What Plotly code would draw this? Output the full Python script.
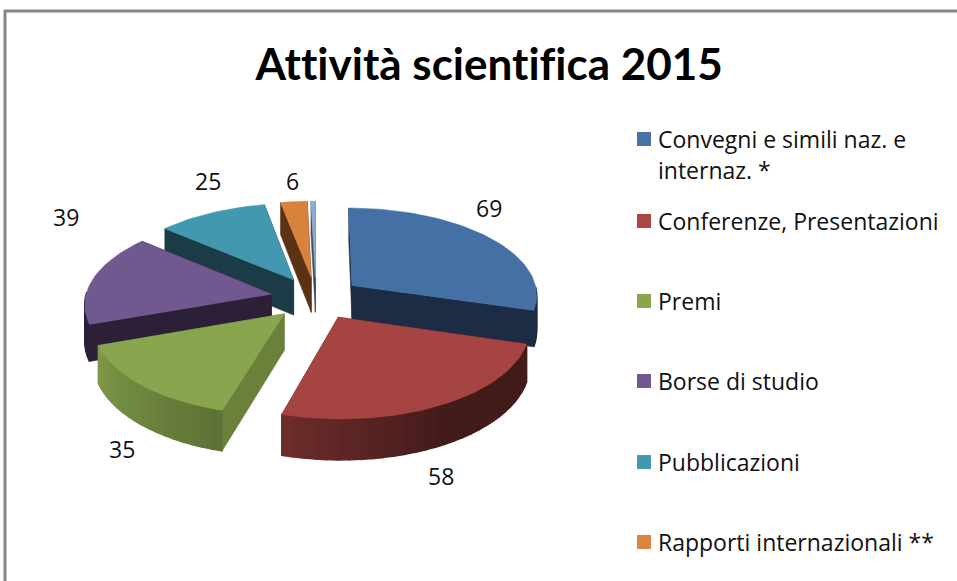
import math
import plotly.graph_objects as go

# ---- data ----
TITLE = "Attività scientifica 2015"
categories = ["Convegni e simili naz. e\ninternaz. *", "Conferenze, Presentazioni", "Premi",
              "Borse di studio", "Pubblicazioni", "Rapporti internazionali **", ""]
values = [69, 58, 35, 39, 25, 6, 1]

# ---- style ----
top_colors = ["#4570A5", "#A54442", "#89A54E", "#71588F", "#4198AF", "#D8833D", "#93A9CF"]
legend_colors = ["#4572A7", "#AA4643", "#89A54E", "#71588F", "#4198AF", "#DB843D"]
wall_colors = ["#1B2C44", "#4A1C1A", "#6B8039", "#2C2037", "#1B3C47", "#5A3214", "#3A4A66"]
CX, CY, R, F, KP, DEPTH, EXPLODE = 316, 298, 186, 0.47, 0.10, 36, 0.245
TITLE_FONT = "Lato, Carlito, sans-serif"
FONT = "Open Sans, sans-serif"
label_xy = [(489, 208), (441, 476), (122, 449), (66, 217), (208, 181), (292, 181)]
legend_y = [139, 221, 301, 381, 462, 542]
draw_order = [6, 5, 4, 0, 3, 2, 1]


def project(theta, rho, off, z=0.0):
    """theta in degrees clockwise from 12 o'clock, rho radius, off = (ox, oy) explosion."""
    t = math.radians(theta)
    X = rho * math.sin(t) + off[0]
    Y = rho * math.cos(t) + off[1]
    s = 1 / (1 + KP * Y)
    return CX + R * X * s, CY - R * F * Y * s + z * s


def scale(hex_color, k):
    r, g, b = (int(hex_color[i:i + 2], 16) for i in (1, 3, 5))
    return f"rgb({int(r * k)},{int(g * k)},{int(b * k)})"


def poly(fig, pts, color, lw=0.6):
    fig.add_trace(go.Scatter(
        x=[p[0] for p in pts] + [pts[0][0]], y=[p[1] for p in pts] + [pts[0][1]],
        mode="lines", fill="toself", fillcolor=color,
        line=dict(color=color, width=lw), hoverinfo="skip", showlegend=False))


def rim_shade(theta):
    """Lighting of the outer rim: dark on the right, lighter to the left."""
    if theta <= 150:
        return 0.40
    if theta <= 195:
        return 0.40 + (theta - 150) / 45 * 0.26
    return 0.68 + (theta - 195) / 54 * 0.24


fig = go.Figure()
total = sum(values)
starts = []
acc = 0
for v in values:
    starts.append(acc / total * 360)
    acc += v

for i in draw_order:
    a0 = starts[i]
    a1 = a0 + values[i] / total * 360
    mid = math.radians((a0 + a1) / 2)
    off = (EXPLODE * math.sin(mid), EXPLODE * math.cos(mid))
    apex_t = project(0, 0, off)
    apex_b = project(0, 0, off, DEPTH)
    # radial walls
    for a in (a0, a1):
        poly(fig, [apex_t, project(a, 1, off), project(a, 1, off, DEPTH), apex_b], wall_colors[i])
    # outer rim, front part only, in shaded strips
    n = max(1, int((a1 - a0) / 3))
    for k in range(n):
        b0 = a0 + (a1 - a0) * k / n
        b1 = a0 + (a1 - a0) * (k + 1) / n
        bm = (b0 + b1) / 2
        if 90 <= bm <= 270:
            col = wall_colors[i] if i == 3 else scale(top_colors[i], rim_shade(bm))
            poly(fig, [project(b0, 1, off), project(b1, 1, off),
                       project(b1, 1, off, DEPTH), project(b0, 1, off, DEPTH)], col, lw=1.5)
    # top face
    m = max(2, int((a1 - a0) / 2))
    arc = [project(a0 + (a1 - a0) * k / m, 1, off) for k in range(m + 1)]
    poly(fig, [apex_t] + arc, top_colors[i])

annotations = [dict(x=488, y=63, text=f"<b>{TITLE}</b>", showarrow=False, xref="x", yref="y",
                    font=dict(family=TITLE_FONT, size=44, color="#000000"))]
for (x, y), v in zip(label_xy, values):
    annotations.append(dict(x=x, y=y, text=str(v), showarrow=False, xref="x", yref="y",
                            font=dict(family=FONT, size=23, color="#111111")))
for name, y in zip(categories, legend_y):
    for j, line in enumerate(name.split("\n")):
        annotations.append(dict(x=656, y=y + j * 31, text=line, showarrow=False, xanchor="left",
                                xref="x", yref="y", font=dict(family=FONT, size=23, color="#111111")))

fig.add_trace(go.Scatter(x=[644] * 6, y=legend_y, mode="markers", showlegend=False, hoverinfo="skip",
                         marker=dict(symbol="square", size=14, color=legend_colors, line=dict(width=0))))

fig.update_layout(
    width=957, height=581, margin=dict(l=0, r=0, t=0, b=0), autosize=False,
    paper_bgcolor="white", plot_bgcolor="white", showlegend=False,
    xaxis=dict(range=[0, 957], visible=False, fixedrange=True),
    yaxis=dict(range=[581, 0], visible=False, fixedrange=True),
    annotations=annotations,
    shapes=[
        dict(type="line", xref="x", yref="y", x0=4, x1=957, y0=11, y1=11, line=dict(color="#868686", width=3)),
        dict(type="line", xref="x", yref="y", x0=5, x1=5, y0=10, y1=581, line=dict(color="#868686", width=3)),
    ],
)
fig.write_html("out.html", config={"displayModeBar": False},
               post_script="document.body.style.margin='0';document.body.style.overflow='hidden';"
                           "var s=document.createElement('style');"
                           "s.textContent='text{font-variant-ligatures:none !important}';"
                           "document.head.appendChild(s);")
